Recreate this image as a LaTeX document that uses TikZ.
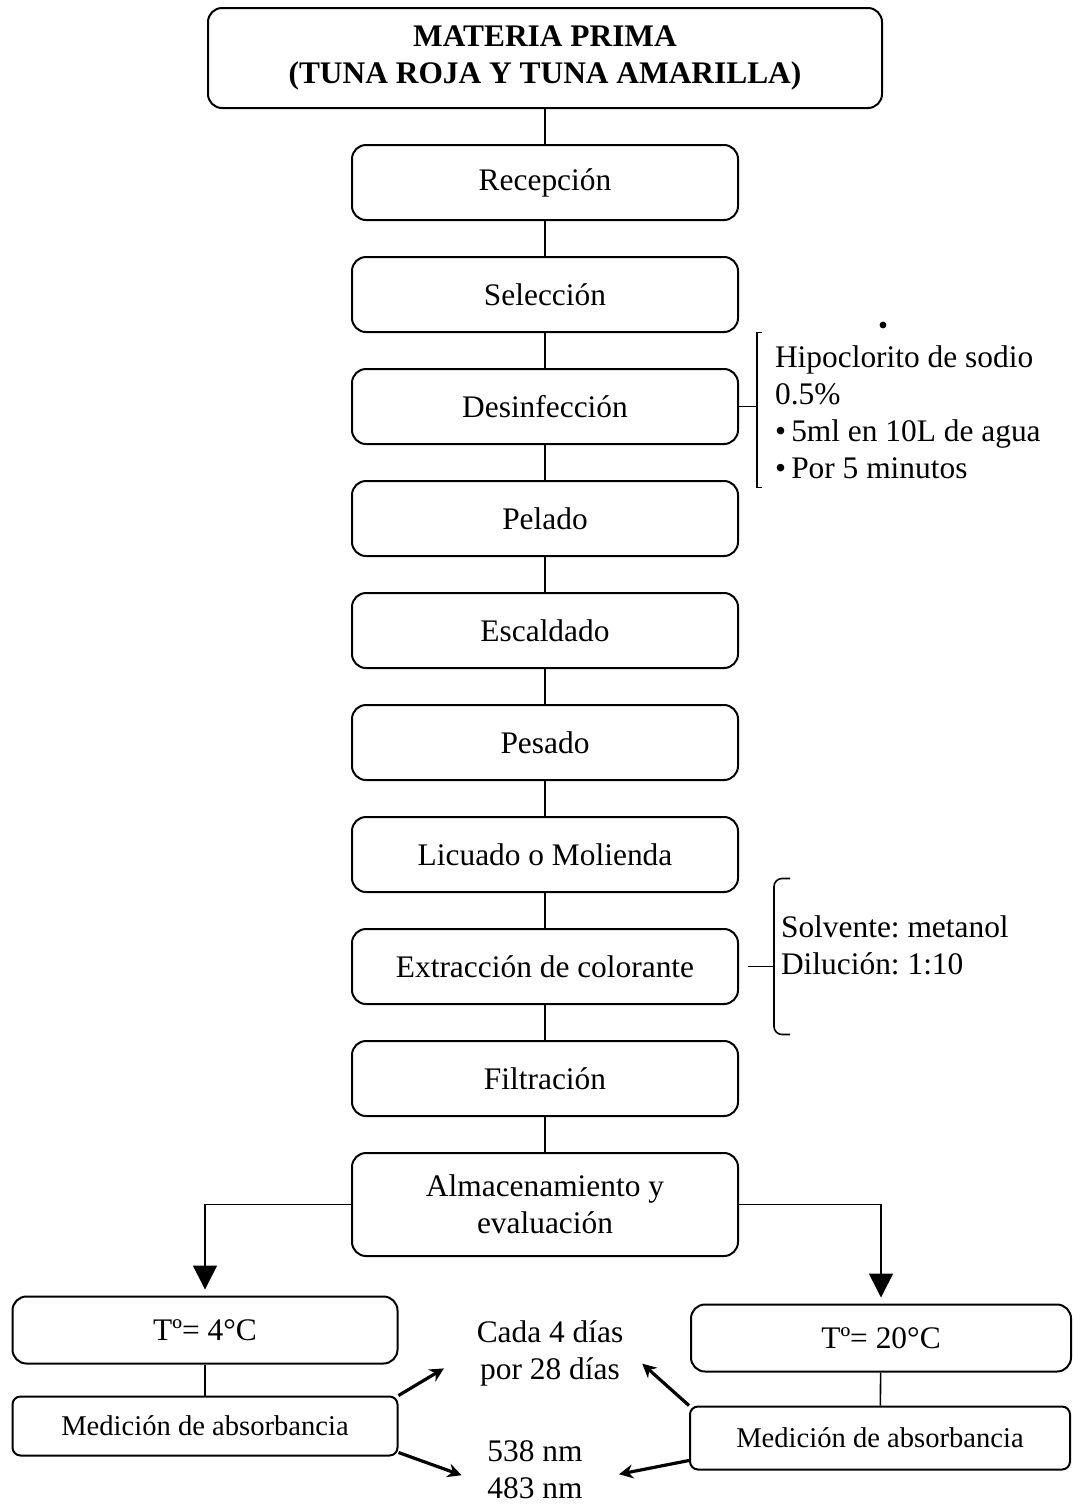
\documentclass[tikz,border=0pt]{standalone}
\usepackage{fontspec}
\setmainfont{Liberation Serif}
\usetikzlibrary{chains, positioning, arrows.meta}

\tikzset{
  paso/.style={draw, line width=1pt, rounded corners=7pt, minimum width=193pt,
    minimum height=37.5pt, align=center},
  medida/.style={draw, line width=1pt, rounded corners=4pt, minimum width=192.5pt,
    minimum height=29.5pt, font=\fontsize{14.3}{17}\selectfont},
  linea/.style={line width=0.8pt},
  flecha/.style={line width=0.8pt, -{Triangle[length=12pt,width=12pt]}},
  flechita/.style={line width=1.6pt, -{Stealth[length=7pt,width=7pt]}},
}

\begin{document}
\frenchspacing
\begin{tikzpicture}[x=0.5pt, y=-0.5pt, node distance=17.5pt,
    font=\fontsize{15.7}{18.5}\selectfont]
    \useasboundingbox (0,0) rectangle (1072,1506);

    \node[paso, minimum width=337pt, minimum height=50pt,
      font=\fontsize{15.7}{18.5}\selectfont\bfseries] (mp) at (545,58)
      {MATERIA PRIMA\\(TUNA ROJA Y TUNA AMARILLA)};

    \begin{scope}[start chain=going below]
      \node[on chain, paso, below=of mp] (rec) {Recepción};
      \node[on chain, paso] (sel) {Selección};
      \node[on chain, paso] (des) {Desinfección};
      \node[on chain, paso] (pel) {Pelado};
      \node[on chain, paso] (esc) {Escaldado};
      \node[on chain, paso] (pes) {Pesado};
      \node[on chain, paso] (lic) {Licuado o Molienda};
      \node[on chain, paso] (ext) {Extracción de colorante};
      \node[on chain, paso] (fil) {Filtración};
      \node[on chain, paso, minimum height=51.5pt] (alm) {Almacenamiento y\\evaluación};
    \end{scope}

    \node[paso, minimum width=192.5pt, minimum height=33.5pt] (t4) at (205,1330) {Tº= 4°C};
    \node[medida] (m4) at (205,1426) {Medición de absorbancia};
    \node[paso, minimum width=190pt, minimum height=33.5pt] (t20) at (881,1338) {Tº= 20°C};
    \node[medida, minimum width=190pt, minimum height=31.5pt] (m20) at (880,1438) {Medición de absorbancia};

    \node[align=center] (cada) at (550,1353) {Cada 4 días\\por 28 días};
    \node[align=center] (nm) at (535,1470) {538 nm\\483 nm};

    \node[anchor=west, align=left] (hipo) at (768,412)
      {Hipoclorito de sodio\\0.5\%\\\textbullet\,5ml en 10L de agua\\\textbullet\,Por 5 minutos};
    \node[anchor=west, align=left] (solv) at (774,945) {Solvente: metanol\\Dilución: 1:10};
    \node[circle, fill, inner sep=1.2pt] (punto) at (883,325) {};

    \foreach \a/\b in {mp/rec, rec/sel, sel/des, des/pel, pel/esc, esc/pes,
      pes/lic, lic/ext, ext/fil, fil/alm, t4/m4, t20/m20}
      \draw[linea] (\a) -- (\b);

    % corchetes
    \draw[linea] (des.east) -- ++(18,0) coordinate (b1);
    \draw[linea] (b1) ++(5,-74) -- ++(-5,0) -- ++(0,155) -- ++(5,0);
    \draw[linea] ([xshift=4.5pt]ext.east) -- ++(26,0) coordinate (b2);
    \draw[linea, rounded corners=4pt] (b2) ++(16,-88) -- ++(-16,0) -- ++(0,156) -- ++(16,0);

    \draw[flecha, shorten >=3pt] (alm.west) -| (t4.north);
    \draw[flecha, shorten >=3pt] (alm.east) -| (t20.north);

    \draw[flechita, shorten >=15pt] (m4.north east) -- (cada.west);
    \draw[flechita, shorten >=10pt] ([yshift=2pt]m4.south east) -- ([yshift=-6pt]nm.west);
    \draw[flechita, shorten >=8pt] (m20.north west) -- (cada.east);
    \draw[flechita, shorten >=15pt] ([yshift=5pt]m20.south west) -- ([yshift=-5pt]nm.east);
\end{tikzpicture}
\end{document}
